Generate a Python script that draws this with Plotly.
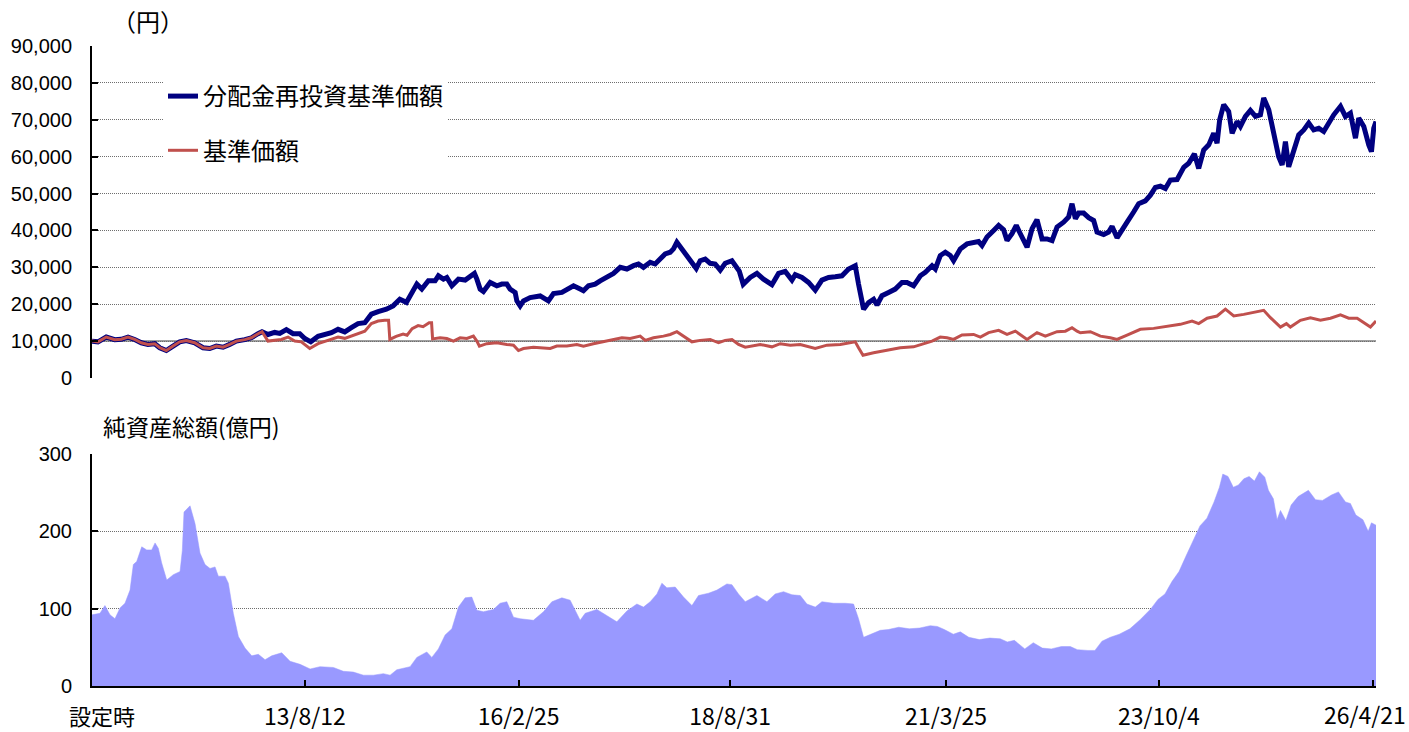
import plotly.graph_objects as go
import pandas as pd

# ---------------- data (dates as decimal years) ----------------
tick_dates = ["2013-08-12", "2016-02-25", "2018-08-31", "2021-03-25", "2023-10-04", "2026-04-21"]
tick_labels = ["13/8/12", "16/2/25", "18/8/31", "21/3/25", "23/10/4", "26/4/21"]
inception_date = "2011-01-31"
inception_label = "設定時"
end_year = 2026.335

# period where both NAV series coincide (no distributions yet)
early_years = [2011.082, 2011.153, 2011.252, 2011.352, 2011.430, 2011.510, 2011.589, 2011.668,
               2011.747, 2011.827, 2011.887, 2011.965, 2012.045, 2012.124, 2012.203, 2012.302,
               2012.401, 2012.481, 2012.559, 2012.639, 2012.718, 2012.797, 2012.897, 2012.975,
               2013.055, 2013.102]
early_nav = [10000, 9800, 11100, 10400, 10500, 11100, 10450, 9550,
             9100, 9300, 8200, 7450, 8650, 9800, 10150, 9550,
             8200, 8000, 8650, 8350, 9100, 10000, 10400, 10900,
             12000, 12550]

# 分配金再投資基準価額 (after first distribution)
reinv_years = [2013.173, 2013.253, 2013.313, 2013.391, 2013.471, 2013.550, 2013.610, 2013.681, 2013.768, 2013.847, 2013.926,
               2014.005, 2014.085, 2014.163, 2014.243, 2014.323, 2014.401, 2014.481, 2014.579, 2014.659, 2014.739, 2014.817, 2014.873, 2014.941,
               2015.000, 2015.078, 2015.158, 2015.197, 2015.257, 2015.297, 2015.357, 2015.435, 2015.515, 2015.574, 2015.625, 2015.654, 2015.693, 2015.732, 2015.812, 2015.891, 2015.951,
               2016.010, 2016.049, 2016.109, 2016.129, 2016.168, 2016.207, 2016.287, 2016.406, 2016.504, 2016.564, 2016.664, 2016.723, 2016.802, 2016.881, 2016.920, 2016.980,
               2017.059, 2017.119, 2017.198, 2017.277, 2017.357, 2017.436, 2017.515, 2017.574, 2017.633, 2017.713, 2017.772, 2017.832, 2017.891, 2017.951, 2017.990,
               2018.030, 2018.090, 2018.149, 2018.209, 2018.260, 2018.307, 2018.367, 2018.426, 2018.485, 2018.545, 2018.604, 2018.684, 2018.723, 2018.771, 2018.818, 2018.901, 2018.981,
               2019.059, 2019.159, 2019.238, 2019.317, 2019.397, 2019.436, 2019.516, 2019.594, 2019.674, 2019.753, 2019.832, 2019.911, 2019.991,
               2020.070, 2020.149, 2020.188, 2020.248, 2020.307, 2020.367, 2020.407, 2020.466, 2020.545, 2020.624, 2020.704, 2020.764, 2020.842, 2020.922, 2020.981,
               2021.061, 2021.100, 2021.159, 2021.219, 2021.278, 2021.317, 2021.397, 2021.477, 2021.555, 2021.614, 2021.655, 2021.714, 2021.793, 2021.852, 2021.911, 2021.952,
               2022.011, 2022.062, 2022.110, 2022.190, 2022.249, 2022.308, 2022.368, 2022.427, 2022.487, 2022.546, 2022.624, 2022.684, 2022.724, 2022.764, 2022.803, 2022.862, 2022.922, 2022.981,
               2023.021, 2023.100, 2023.159, 2023.200, 2023.259, 2023.318, 2023.378, 2023.456, 2023.516, 2023.595, 2023.655, 2023.714, 2023.774, 2023.833, 2023.892, 2023.972,
               2024.051, 2024.110, 2024.178, 2024.229, 2024.288, 2024.348, 2024.407, 2024.447, 2024.478, 2024.526, 2024.585, 2024.626, 2024.685, 2024.724, 2024.784, 2024.843, 2024.903, 2024.962,
               2025.001, 2025.061, 2025.101, 2025.140, 2025.179, 2025.220, 2025.259, 2025.298, 2025.358, 2025.417, 2025.477, 2025.536, 2025.595, 2025.655, 2025.714, 2025.774, 2025.833, 2025.913, 2025.972,
               2026.031, 2026.091, 2026.130, 2026.190, 2026.249, 2026.281, 2026.308, 2026.335]
reinv_nav = [11800, 12350, 12100, 13100, 12000, 12000, 10700, 9800, 11300, 11800, 12300,
             13200, 12500, 13650, 14750, 15000, 17300, 18000, 18650, 19550, 21350, 20500, 22500, 25450,
             24100, 26350, 26350, 27700, 26800, 27250, 25000, 26800, 26550, 27700, 28350, 26800, 24100, 23450, 25900, 25000, 25450,
             25450, 24100, 23200, 20900, 19550, 20900, 21800, 22250, 20900, 22900, 23200, 24100, 25000, 24100, 23650, 25000,
             25450, 26350, 27250, 28350, 30000, 29550, 30450, 30900, 30000, 31350, 30900, 32550, 33650, 34100, 35000,
             36800, 35000, 32700, 30900, 29700, 31800, 32250, 31100, 30900, 29250, 31100, 31800, 30450, 29000, 25400, 27250, 28350,
             26800, 25300, 28350, 28900, 26550, 28000, 27250, 25900, 23800, 26550, 27250, 27450, 27700,
             29550, 30450, 25450, 18650, 20450, 21350, 19800, 22300, 23200, 24100, 25900, 25900, 25000, 27700, 28650,
             30450, 29550, 33200, 34100, 33200, 31800, 35000, 36350, 36550, 37000, 35900, 38200, 40000, 41350, 40200, 37250,
             39100, 41350, 39100, 35450, 40450, 42900, 37700, 37700, 37250, 40900, 42250, 43650, 47250, 43200, 44700, 44700, 43450, 42700,
             39550, 38900, 39550, 41100, 38000, 40450, 42250, 45000, 47250, 48000, 49550, 51650, 52000, 51350, 53650, 53800,
             57100, 58200, 60750, 56800, 61800, 63200, 66350, 63650, 70000, 74100, 72250, 66350, 69550, 68200, 70900, 72550, 70900, 71350,
             75900, 72700, 68200, 65450, 60000, 57750, 64100, 57250, 62250, 65900, 67250, 69100, 67250, 67700, 66800, 69100, 71350, 73650, 70900,
             71800, 65000, 70450, 68200, 63200, 61350, 67700, 69550]

# 基準価額 (after first distribution)
nav_years = [2013.173, 2013.253, 2013.332, 2013.411, 2013.491, 2013.569, 2013.669, 2013.768, 2013.887,
             2014.005, 2014.085, 2014.204, 2014.323, 2014.401, 2014.481, 2014.560, 2014.605, 2014.620, 2014.695, 2014.778, 2014.825, 2014.885, 2014.956,
             2015.015, 2015.087, 2015.116, 2015.128, 2015.217, 2015.297, 2015.376, 2015.455, 2015.535, 2015.613, 2015.654, 2015.684, 2015.772, 2015.891,
             2016.010, 2016.089, 2016.148, 2016.207, 2016.326, 2016.445, 2016.525, 2016.604, 2016.723, 2016.842, 2016.920,
             2017.039, 2017.158, 2017.277, 2017.377, 2017.475, 2017.594, 2017.654, 2017.752, 2017.871, 2017.951,
             2018.030, 2018.109, 2018.209, 2018.307, 2018.426, 2018.525, 2018.604, 2018.684, 2018.762, 2018.842, 2018.901,
             2019.020, 2019.159, 2019.258, 2019.377, 2019.496, 2019.674, 2019.813, 2019.971,
             2020.149, 2020.188, 2020.241, 2020.367, 2020.526, 2020.684, 2020.842, 2020.961,
             2021.061, 2021.159, 2021.239, 2021.317, 2021.417, 2021.555, 2021.635, 2021.733, 2021.852, 2021.952,
             2022.051, 2022.190, 2022.308, 2022.407, 2022.546, 2022.645, 2022.724, 2022.784, 2022.823, 2022.942,
             2023.061, 2023.179, 2023.259, 2023.378, 2023.536, 2023.694, 2023.853,
             2024.011, 2024.150, 2024.229, 2024.329, 2024.447, 2024.546, 2024.645, 2024.764, 2024.882,
             2025.001, 2025.081, 2025.200, 2025.271, 2025.318, 2025.437, 2025.556, 2025.675, 2025.794, 2025.913,
             2026.011, 2026.111, 2026.171, 2026.269, 2026.335]
nav = [10000, 10150, 10450, 11100, 10000, 9800, 8000, 9300, 10150,
       11100, 10750, 11800, 12700, 14750, 15450, 15650, 15650, 10450, 11300, 11900, 11600, 13400, 14200,
       13900, 15000, 15000, 10600, 10900, 10700, 10000, 10900, 10700, 11350, 10000, 8650, 9300, 9550,
       9100, 8900, 7450, 8000, 8350, 8200, 8000, 8650, 8650, 9100, 8650,
       9300, 9800, 10450, 10900, 10700, 11350, 10200, 10900, 11350, 11800,
       12550, 11350, 9800, 10200, 10450, 9550, 10200, 10450, 9100, 8350, 8650,
       9100, 8450, 9300, 8900, 9100, 8000, 8900, 9100,
       9800, 8200, 6150, 6850, 7450, 8200, 8450, 9300,
       10000, 11100, 10900, 10450, 11650, 11800, 11100, 12300, 12900, 11800,
       12700, 10450, 12300, 11350, 12550, 12700, 13650, 12700, 12250, 12550,
       11350, 10900, 10450, 11650, 13200, 13450, 14100,
       14550, 15450, 14750, 16200, 16800, 18650, 16800, 17250, 17700,
       18350, 16350, 13800, 14750, 13800, 15650, 16350, 15650, 16200, 17100,
       16200, 16200, 15300, 13800, 15450]

# 純資産総額 (億円)
asset_years = [2011.082, 2011.177, 2011.236, 2011.296, 2011.355, 2011.415, 2011.474, 2011.534, 2011.573, 2011.613,
               2011.673, 2011.732, 2011.791, 2011.831, 2011.870, 2011.910, 2011.970,
               2012.048, 2012.128, 2012.155, 2012.175, 2012.247, 2012.306, 2012.365, 2012.425, 2012.484, 2012.544,
               2012.583, 2012.663, 2012.702, 2012.761, 2012.821, 2012.900, 2012.980,
               2013.058, 2013.138, 2013.217, 2013.336, 2013.435, 2013.554, 2013.673, 2013.791, 2013.950,
               2014.068, 2014.187, 2014.306, 2014.425, 2014.544, 2014.623, 2014.703, 2014.861, 2014.941,
               2015.059, 2015.119, 2015.197, 2015.277, 2015.357, 2015.435, 2015.515, 2015.594, 2015.654, 2015.732, 2015.851, 2015.930,
               2016.010, 2016.089, 2016.168, 2016.326, 2016.445, 2016.545, 2016.664, 2016.762, 2016.881, 2016.941,
               2017.080, 2017.198, 2017.317, 2017.436, 2017.555, 2017.633, 2017.713, 2017.793, 2017.852, 2017.911,
               2018.010, 2018.109, 2018.209, 2018.287, 2018.406, 2018.506, 2018.624, 2018.684, 2018.762, 2018.842, 2018.981,
               2019.100, 2019.198, 2019.297, 2019.397, 2019.496, 2019.575, 2019.674, 2019.753, 2019.891,
               2020.030, 2020.129, 2020.188, 2020.248, 2020.327, 2020.407, 2020.446, 2020.541, 2020.666, 2020.791, 2020.916,
               2021.040, 2021.124, 2021.207, 2021.314, 2021.397, 2021.498, 2021.623, 2021.747, 2021.872, 2021.955,
               2022.039, 2022.163, 2022.264, 2022.371, 2022.478, 2022.597, 2022.704, 2022.787, 2022.913, 2022.996,
               2023.080, 2023.179, 2023.286, 2023.412, 2023.536, 2023.662, 2023.745, 2023.828, 2023.911, 2023.995,
               2024.078, 2024.161, 2024.244, 2024.327, 2024.411, 2024.475, 2024.515, 2024.577, 2024.640, 2024.701,
               2024.765, 2024.828, 2024.891, 2024.950,
               2025.014, 2025.057, 2025.116, 2025.160, 2025.200, 2025.264, 2025.327, 2025.410, 2025.473, 2025.532,
               2025.616, 2025.699, 2025.806, 2025.889, 2025.972,
               2026.031, 2026.096, 2026.180, 2026.242, 2026.281, 2026.335]
assets = [92, 94, 104, 92, 87, 101, 107, 124, 157, 161,
          180, 176, 176, 185, 178, 159, 137,
          144, 148, 175, 225, 233, 210, 172, 157, 152, 154,
          142, 142, 133, 94, 64, 49, 39,
          41, 34, 39, 43, 32, 28, 22, 25, 24,
          19, 18, 14, 14, 16, 14, 21, 25, 37,
          44, 37, 48, 66, 74, 102, 114, 115, 98, 96, 99, 107,
          109, 89, 87, 85, 96, 109, 114, 111, 85, 94,
          99, 91, 83, 97, 106, 102, 109, 119, 133, 127,
          128, 115, 104, 117, 120, 124, 132, 131, 119, 109, 117,
          109, 119, 122, 118, 117, 106, 102, 109, 107,
          107, 106, 87, 63, 67, 70, 72, 73, 76, 74, 75,
          78, 77, 73, 67, 70, 63, 60, 62, 61, 57,
          59, 48, 56, 49, 48, 51, 51, 47, 46, 46,
          58, 63, 67, 74, 86, 100, 112, 119, 135, 148,
          168, 187, 207, 217, 238, 257, 274, 271, 257, 260,
          268, 271, 265, 277,
          270, 253, 242, 215, 227, 214, 234, 245, 249, 253,
          241, 240, 247, 251, 238,
          236, 221, 215, 200, 211, 208]

nav_ticks = list(range(0, 90001, 10000))
asset_ticks = [0, 100, 200, 300]


def dec_year(s):
    d = pd.Timestamp(s)
    start = pd.Timestamp(year=d.year, month=1, day=1)
    days = 366 if d.is_leap_year else 365
    return d.year + (d - start).days / days


start_year = dec_year(inception_date)
tick_vals = [dec_year(s) for s in tick_dates]
# the last date label sits at the right edge of the page; it is drawn as an
# annotation right-aligned to the page edge so it stays fully visible
axis_tick_text = tick_labels[:-1] + [""]

reinv_x = early_years + reinv_years
reinv_y = early_nav + reinv_nav
nav_x = early_years + nav_years
nav_y = early_nav + nav

# ---------------- layout geometry (pixels) ----------------
W, H = 1409, 732
L, R, T, B = 92, 33, 46, 46
PW, PH = W - L - R, H - T - B


def px(x):
    return (x - L) / PW


def py(y):
    return (H - B - y) / PH


JP = "Noto Sans CJK JP"
AR = "Liberation Sans, Arial"
NAVY = "#000080"
RED = "#C0504D"
AREA = "#9999FF"
GRID = "#6e6e6e"

fig = go.Figure()

fig.add_trace(go.Scatter(
    x=reinv_x, y=reinv_y, mode="lines", name="分配金再投資基準価額",
    line=dict(color=NAVY, width=5), legendgroup="a", xaxis="x", yaxis="y"))
fig.add_trace(go.Scatter(
    x=nav_x, y=nav_y, mode="lines", name="基準価額",
    line=dict(color=RED, width=3), legendgroup="b", xaxis="x", yaxis="y"))
fig.add_trace(go.Scatter(
    x=asset_years, y=assets, mode="lines", name="純資産総額",
    line=dict(color=AREA, width=0.5), fill="tozeroy", fillcolor=AREA,
    showlegend=False, xaxis="x2", yaxis="y2"))

axis_common = dict(showline=True, linecolor="black", linewidth=2, mirror=False,
                   ticks="inside", ticklen=6, tickwidth=2, tickcolor="black",
                   zeroline=False, automargin=False)

fig.update_layout(
    width=W, height=H,
    margin=dict(l=L, r=R, t=T, b=B, autoexpand=False),
    paper_bgcolor="white", plot_bgcolor="white",
    showlegend=True,
    legend=dict(x=px(163), y=py(74), xanchor="left", yanchor="top",
                bgcolor="white", borderwidth=0,
                font=dict(family=JP, size=24, color="black"),
                tracegroupgap=20, itemwidth=30),
    xaxis=dict(domain=[0, 1], anchor="y", range=[start_year, end_year],
               showticklabels=False, showgrid=False, showline=False,
               zeroline=False, ticks="", automargin=False),
    yaxis=dict(domain=[py(378), py(46)], anchor="x", range=[0, 90000],
               tickvals=nav_ticks, tickformat=",",
               showgrid=True, gridcolor=GRID, gridwidth=1, griddash="1px,1px",
               tickfont=dict(family=AR, size=20, color="black"),
               ticklabelstandoff=14, **axis_common),
    xaxis2=dict(domain=[0, 1], anchor="y2", range=[start_year, end_year],
                tickvals=tick_vals, ticktext=axis_tick_text, showgrid=False,
                tickfont=dict(family=JP, size=23, color="black"),
                ticklabelstandoff=9, ticklabeloverflow="allow", **axis_common),
    yaxis2=dict(domain=[0, py(454)], anchor="x2", range=[0, 300],
                tickvals=asset_ticks,
                showgrid=True, gridcolor=GRID, gridwidth=1, griddash="1px,1px",
                tickfont=dict(family=AR, size=20, color="black"),
                ticklabelstandoff=14, **axis_common),
    shapes=[dict(type="line", xref="x domain", yref="y", x0=0, x1=1,
                 y0=10000, y1=10000, line=dict(color="#7f7f7f", width=1.5),
                 layer="below")],
    annotations=[
        dict(text="（円）", xref="paper", yref="paper", x=px(148), y=py(20),
             xanchor="center", yanchor="middle", showarrow=False,
             font=dict(family=JP, size=24, color="black")),
        dict(text="純資産総額(億円)", xref="paper", yref="paper", x=px(101), y=py(426),
             xanchor="left", yanchor="middle", showarrow=False,
             font=dict(family=JP, size=23, color="black")),
        dict(text=inception_label, xref="paper", yref="paper", x=px(102), y=py(715),
             xanchor="center", yanchor="middle", showarrow=False,
             font=dict(family=JP, size=22, color="black")),
        dict(text=tick_labels[-1], xref="paper", yref="paper", x=px(1408), y=py(714),
             xanchor="right", yanchor="middle", showarrow=False,
             font=dict(family=JP, size=23, color="black")),
    ],
)

fig.write_html("out.html", config={"displayModeBar": False},
               post_script="document.body.style.margin='0';document.body.style.overflow='hidden';")
